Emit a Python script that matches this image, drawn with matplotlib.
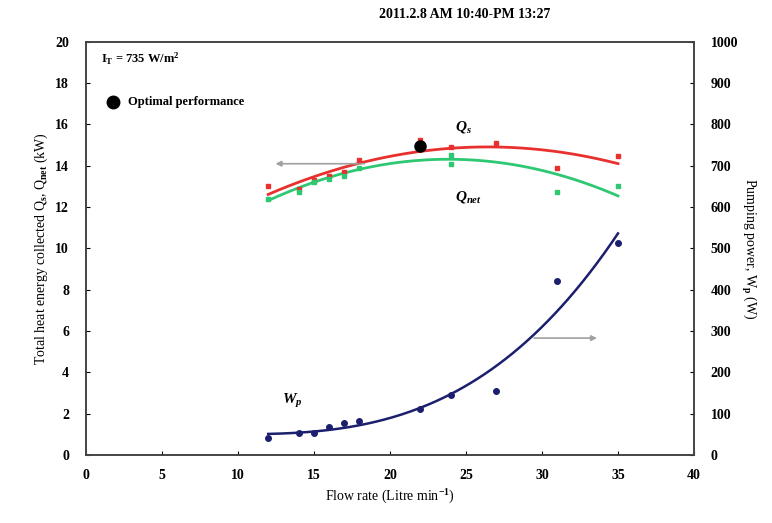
import matplotlib.pyplot as plt
import numpy as np

plt.rcParams['font.family'] = ['Liberation Serif', 'DejaVu Serif']
plt.rcParams['font.weight'] = 'bold'
plt.rcParams['mathtext.fontset'] = 'custom'
plt.rcParams['mathtext.rm'] = 'Liberation Serif:bold'
plt.rcParams['mathtext.it'] = 'Liberation Serif:italic:bold'
plt.rcParams['mathtext.bf'] = 'Liberation Serif:bold'

# Data (flow rate in L/min)
qs_flow = [12, 14, 15, 16, 17, 18, 22, 24, 27, 31, 35]
qs_kw = [13.0, 12.9, 13.3, 13.5, 13.7, 14.3, 15.25, 14.9, 15.1, 13.9, 14.45]

qnet_flow = [12, 14, 15, 16, 17, 18, 22, 24, 24, 31, 35]
qnet_kw = [12.4, 12.75, 13.2, 13.35, 13.5, 13.9, 14.95, 14.5, 14.1, 12.75, 13.0]

wp_flow = [12, 14, 15, 16, 17, 18, 22, 24, 27, 31, 35]
wp_w = [42, 54, 54, 67, 78, 83, 112, 145, 154, 420, 513]

opt_flow = [22]
opt_kw = [14.95]

red = '#e8312f'
green = '#2ec872'
navy = '#1b1f6e'

fig = plt.figure(figsize=(7.72, 5.23), dpi=100)
ax = fig.add_axes([0.111, 0.130, 0.788, 0.790])
ax2 = ax.twinx()

xs = np.linspace(12, 35, 200)

# Qs and Qnet with quadratic trend lines
c_qs = np.polyfit(qs_flow, qs_kw, 2)
c_qn = np.polyfit(qnet_flow, qnet_kw, 2)
ax.plot(qs_flow, qs_kw, 's', color=red, ms=3, zorder=4)
ax.plot(qnet_flow, qnet_kw, 's', color=green, ms=3, zorder=4)
ax.plot(xs, np.polyval(c_qn, xs), color=green, lw=2, zorder=3)
ax.plot(xs, np.polyval(c_qs, xs), color=red, lw=2, zorder=3)
ax.plot(opt_flow, opt_kw, 'o', color='black', ms=8, zorder=5)

# Pumping power on right axis, cubic trend
c_wp = np.polyfit(wp_flow, wp_w, 3)
ax2.plot(wp_flow, wp_w, 'o', color=navy, ms=4, zorder=4)
ax2.plot(xs, np.polyval(c_wp, xs), color=navy, lw=1.8, zorder=3)

# axis indicator arrows
ax.annotate('', xy=(12.3, 14.1), xytext=(18.5, 14.1),
            arrowprops=dict(arrowstyle='-|>', color='#a0a0a0', lw=1.2, mutation_scale=8))
ax2.annotate('', xy=(33.8, 283), xytext=(29.3, 283),
             arrowprops=dict(arrowstyle='-|>', color='#a0a0a0', lw=1.2, mutation_scale=8))

# labels in the plot
ax.text(1.0, 19.2, r'I$_\mathrm{T}$ = 735 W/m$^2$', fontsize=9, va='center')
ax.plot([1.8], [17.1], 'o', color='black', ms=9)
ax.text(2.8, 17.1, 'Optimal performance', fontsize=9, va='center')
ax.text(24.3, 15.9, r'$Q_s$', fontsize=11, va='center')
ax.text(24.3, 12.5, r'$Q_{net}$', fontsize=11, va='center')
ax.text(12.9, 2.6, r'$W_p$', fontsize=11, va='center')

ax.set_xlim(0, 40)
ax.set_ylim(0, 20)
ax2.set_ylim(0, 1000)
ax.set_xticks(np.arange(0, 41, 5))
ax.set_yticks(np.arange(0, 21, 2))
ax2.set_yticks(np.arange(0, 1001, 100))

for a in (ax, ax2):
    a.tick_params(direction='in', length=3, labelsize=10, width=0.8)
    for s in a.spines.values():
        s.set_linewidth(1.2)
        s.set_color('#444444')
ax.tick_params(axis='x', pad=10)
ax.tick_params(axis='y', pad=12)
ax2.tick_params(axis='y', pad=12)

ax.set_xlabel(r'Flow rate (Litre min$^{-1}$)', fontsize=10, labelpad=4)
ax.set_ylabel(r'Total heat energy collected Q$_\mathrm{s}$, Q$_\mathrm{net}$ (kW)', fontsize=10, labelpad=4)
ax2.set_ylabel(r'Pumping power, W$_\mathrm{p}$ (W)', fontsize=10, rotation=270, labelpad=14)
fig.text(0.602, 0.972, '2011.2.8 AM 10:40-PM 13:27', ha='center', va='center', fontsize=10)

fig.savefig('out.png', dpi=100, facecolor='white')
